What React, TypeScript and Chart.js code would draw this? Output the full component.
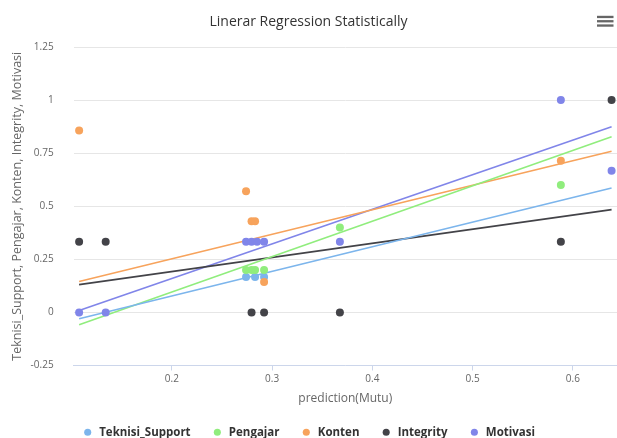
import { useEffect, useRef } from "react";
import { Chart, registerables } from "chart.js";

Chart.register(...registerables);

const chartTitle = "Linerar Regression Statistically";
const xAxisTitle = "prediction(Mutu)";
const yAxisTitle = "Teknisi_Support, Pengajar, Konten, Integrity, Motivasi";

const seriesNames = ["Teknisi_Support", "Pengajar", "Konten", "Integrity", "Motivasi"];
const seriesColors = ["#7cb5ec", "#90ed7d", "#f7a35c", "#434348", "#8085e9"];

// prediction(Mutu) of each observation, paired with the score values below
const teknisiX = [0.274, 0.283, 0.292];
const teknisiY = [0.167, 0.167, 0.167];
const pengajarX = [0.274, 0.2795, 0.283, 0.292, 0.3676, 0.588];
const pengajarY = [0.2, 0.2, 0.2, 0.2, 0.4, 0.6];
const kontenX = [0.1075, 0.274, 0.2795, 0.283, 0.292, 0.588];
const kontenY = [0.857, 0.571, 0.429, 0.429, 0.143, 0.714];
const integrityX = [0.1075, 0.134, 0.2795, 0.292, 0.3676, 0.588, 0.6386];
const integrityY = [0.333, 0.333, 0, 0, 0, 0.333, 1];
const motivasiX = [0.1075, 0.134, 0.274, 0.2795, 0.285, 0.292, 0.3676, 0.588, 0.6386];
const motivasiY = [0, 0, 0.333, 0.333, 0.333, 0.333, 0.333, 1, 0.667];

// least-squares fit of each series, evaluated at the smallest and largest prediction
const fitRangeX = [0.1075, 0.6386];
const fitStartY = [-0.03, -0.058, 0.146, 0.131, 0.009];
const fitEndY = [0.586, 0.827, 0.759, 0.484, 0.874];

// axis extents and tick values
const xAxisMin = 0.102;
const xAxisMax = 0.644;
const xTicks = [0.2, 0.3, 0.4, 0.5, 0.6];
const yAxisMin = -0.25;
const yAxisMax = 1.25;
const yTicks = [-0.25, 0, 0.25, 0.5, 0.75, 1, 1.25];

const seriesX = [teknisiX, pengajarX, kontenX, integrityX, motivasiX];
const seriesY = [teknisiY, pengajarY, kontenY, integrityY, motivasiY];

const FONT = "'Open Sans', 'DejaVu Sans', sans-serif";

// three-bar context menu button in the top right corner
const menuButton = {
  id: "menuButton",
  afterDraw(chart: any) {
    const { ctx, width } = chart;
    ctx.save();
    ctx.fillStyle = "#666666";
    const left = width - 20;
    [15.8, 20.1, 24.4].forEach((y) => ctx.fillRect(left, y, 16.5, 2.3));
    ctx.restore();
  },
};

export default function App() {
  const canvasRef = useRef<HTMLCanvasElement>(null);

  useEffect(() => {
    if (!canvasRef.current) return;

    const pointSets = seriesNames.map((name, i) => ({
      label: name,
      data: seriesX[i].map((x, k) => ({ x, y: seriesY[i][k] })),
      backgroundColor: seriesColors[i],
      borderColor: seriesColors[i],
      borderWidth: 0,
      pointRadius: 4,
      pointHoverRadius: 4,
      pointBorderWidth: 0,
      showLine: false,
      order: seriesNames.length - i,
    }));

    const fitSets = seriesNames.map((name, i) => ({
      label: name + " fit",
      data: [
        { x: fitRangeX[0], y: fitStartY[i] },
        { x: fitRangeX[1], y: fitEndY[i] },
      ],
      borderColor: seriesColors[i],
      backgroundColor: seriesColors[i],
      borderWidth: 1.6,
      pointRadius: 0,
      pointHoverRadius: 0,
      showLine: true,
      fill: false,
      order: 20 + i,
    }));

    const chart = new Chart(canvasRef.current, {
      type: "scatter",
      data: { datasets: [...pointSets, ...fitSets] as any },
      plugins: [menuButton],
      options: {
        responsive: false,
        animation: false,
        events: [],
        layout: { padding: 0, autoPadding: false },
        plugins: {
          tooltip: { enabled: false },
          title: {
            display: true,
            text: chartTitle,
            color: "#333333",
            font: { family: FONT, size: 14, weight: "normal" },
            padding: { top: 13.2, bottom: 17 },
          },
          legend: {
            position: "bottom",
            labels: {
              usePointStyle: true,
              pointStyle: "circle",
              boxWidth: 12,
              boxHeight: 5,
              padding: 21,
              color: "#333333",
              font: { family: FONT, size: 11.5, weight: "bold" },
              filter: (item: any) => item.datasetIndex < seriesNames.length,
              sort: (a: any, b: any) => a.datasetIndex - b.datasetIndex,
            },
          },
        },
        scales: {
          x: {
            type: "linear",
            min: xAxisMin,
            max: xAxisMax,
            afterBuildTicks: (scale: any) => {
              scale.ticks = xTicks.map((value) => ({ value }));
            },
            afterFit: (scale: any) => {
              scale.height = 40;
            },
            grid: {
              display: true,
              drawOnChartArea: false,
              drawTicks: true,
              tickLength: 5,
              color: "#ccd6eb",
            },
            border: { display: true, color: "#ccd6eb" },
            ticks: {
              padding: 3,
              color: "#666666",
              font: { family: FONT, size: 10 },
              callback: (v: any) => String(v),
            },
            title: {
              display: true,
              text: xAxisTitle,
              color: "#666666",
              font: { family: FONT, size: 12 },
              padding: { top: 0, bottom: 0 },
            },
          },
          y: {
            type: "linear",
            min: yAxisMin,
            max: yAxisMax,
            afterBuildTicks: (scale: any) => {
              scale.ticks = yTicks.map((value) => ({ value }));
            },
            afterFit: (scale: any) => {
              scale.width = 73.6;
            },
            grid: { color: "#e6e6e6", drawTicks: false },
            border: { display: false },
            ticks: {
              padding: 20,
              color: "#666666",
              font: { family: FONT, size: 10 },
              callback: (v: any) => String(v),
            },
            title: {
              display: true,
              text: yAxisTitle,
              color: "#666666",
              font: { family: FONT, size: 12.5 },
              padding: { top: 10, bottom: 0 },
            },
          },
        },
      },
    } as any);

    return () => chart.destroy();
  }, []);

  return (
    <div
      style={{
        position: "fixed",
        left: 0,
        top: 0,
        width: 617,
        height: 438,
        overflow: "hidden",
        background: "#ffffff",
      }}
    >
      <canvas ref={canvasRef} width={617} height={448} style={{ display: "block" }} />
    </div>
  );
}
